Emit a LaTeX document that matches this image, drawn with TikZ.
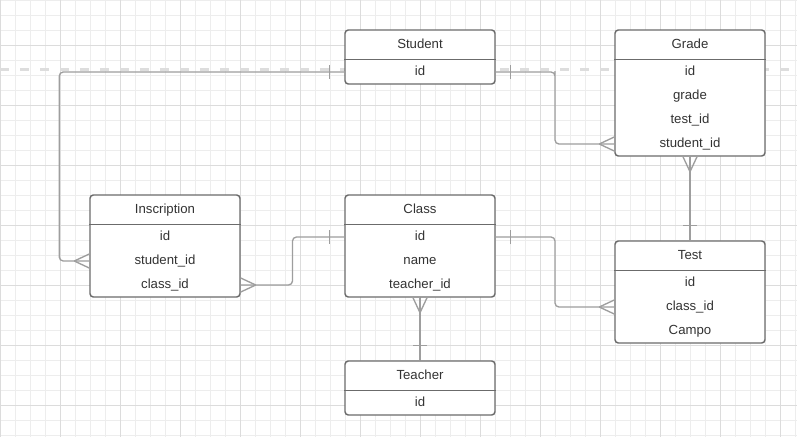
\documentclass[tikz,border=0pt]{standalone}
\usepackage{fontspec}
\setmainfont{Liberation Sans}
\usetikzlibrary{positioning, calc}
\definecolor{GridMinor}{HTML}{EDEDED}
\definecolor{GridMajor}{HTML}{DCDCDC}
\definecolor{Fold}{HTML}{DDDDDD}
\definecolor{Frame}{HTML}{6B6B6B}
\definecolor{Link}{HTML}{9E9E9E}
\definecolor{Ink}{HTML}{333333}

\tikzset{
  tbl/.style={draw=Frame, fill=white, line width=1.1pt, rounded corners=2.5pt, minimum width=112.5pt, inner sep=0pt},
  tblline/.style={draw=Frame, line width=1.1pt},
  ttl/.style={text=Ink, inner sep=0pt, text height=7.5pt, text depth=3pt},
  fld/.style={text=Ink, inner sep=0pt, text height=7.5pt, text depth=2.25pt},
  rel/.style={draw=Link, line width=1pt, rounded corners=3pt},
  crow/.pic={\draw[rel] (-15,0) -- (0,-7) (-15,0) -- (0,7);},
  onebar/.pic={\draw[rel] (-15,-7) -- (-15,7);},
}

% entity box: name, left, top, title, fields
\newcommand{\Entity}[5]{%
  \def\nrows{0}%
  \foreach \f [count=\cnt] in {#5} {\xdef\nrows{\cnt}}%
  \node[tbl, minimum height={(30+24*\nrows)*0.75pt}] (#1) at ({#2+75},{#3+15+12*\nrows}) {};
  \draw[tblline] ($(#1.north west)+(0,30)$) -- ($(#1.north east)+(0,30)$);
  \node[ttl] (#1-title) at ({#2+75},{#3+15}) {#4};
  \foreach \f [count=\i from 0] in {#5}
    \node[fld] (#1-\i) at ({#2+75},{#3+42+24*\i}) {\f};
}

\begin{document}
\begin{tikzpicture}[x=0.75pt, y=-0.75pt, font=\fontsize{9.9}{12}\selectfont]
\useasboundingbox (0,0) rectangle (797,437);
\fill[white] (0,0) rectangle (797,437);

% grid
\foreach \g in {0,15,...,795} \draw[GridMinor, line width=0.75pt] (\g,0) -- (\g,437);
\foreach \g in {0,15,...,435} \draw[GridMinor, line width=0.75pt] (0,\g) -- (797,\g);
\foreach \g in {0,60,...,780} \draw[GridMajor, line width=0.75pt] (\g,0) -- (\g,437);
\foreach \g in {45,105,...,405} \draw[GridMajor, line width=0.75pt] (0,\g) -- (797,\g);
\draw[Fold, line width=2.25pt, dash pattern=on 6.75pt off 8.25pt] (0,69) -- (797,69);

\Entity{student}{345}{30}{Student}{id}
\Entity{grade}{615}{30}{Grade}{id,grade,test\_id,student\_id}
\Entity{inscription}{90}{195}{Inscription}{id,student\_id,class\_id}
\Entity{class}{345}{195}{Class}{id,name,teacher\_id}
\Entity{test}{615}{241}{Test}{id,class\_id,Campo}
\Entity{teacher}{345}{361}{Teacher}{id}

% relations
\draw[rel] (student.west |- student-0) -| ($(inscription.west)+(-30,0)$) |- (inscription.west |- inscription-1);
\draw[rel] (inscription.east |- inscription-2) -| ($(inscription.east)!0.5!(class.west)$) |- (class.west |- class-0);
\draw[rel] (class.east |- class-0) -| ($(class.east)!0.5!(test.west)$) |- (test.west |- test-1);
\draw[rel] (student.east |- student-0) -| ($(student.east)!0.5!(grade.west)$) |- (grade.west |- grade-3);
\draw[rel] (grade.south) -- (test.north);
\draw[rel] (class.south) -- (teacher.north);

% many ends
\pic at (inscription.west |- inscription-1) {crow};
\pic[rotate=180] at (inscription.east |- inscription-2) {crow};
\pic at (grade.west |- grade-3) {crow};
\pic at (test.west |- test-1) {crow};
\pic[rotate=90] at (grade.south) {crow};
\pic[rotate=90] at (class.south) {crow};
% one ends
\pic at (student.west |- student-0) {onebar};
\pic[rotate=180] at (student.east |- student-0) {onebar};
\pic at (class.west |- class-0) {onebar};
\pic[rotate=180] at (class.east |- class-0) {onebar};
\pic[rotate=-90] at (test.north) {onebar};
\pic[rotate=-90] at (teacher.north) {onebar};

\end{tikzpicture}
\end{document}
